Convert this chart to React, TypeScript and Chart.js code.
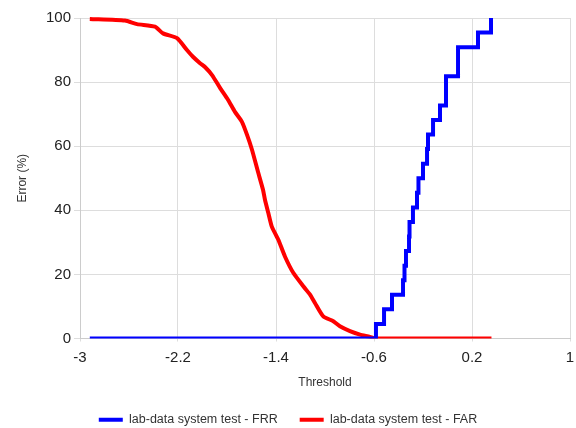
import React, { useEffect, useRef } from 'react';
import { Chart, registerables } from 'chart.js';

Chart.register(...registerables);

// Threshold values at which the FRR step changes, and the new FRR value (%)
const frrThresholds = [
  -2.92, -0.584, -0.518, -0.453, -0.363, -0.351, -0.339, -0.314, -0.31, -0.282,
  -0.249, -0.237, -0.2, -0.167, -0.159, -0.118, -0.061, -0.012, -0.012, 0.086,
  0.086, 0.249, 0.355,
];
const frrValues = [
  0, 4.55, 9.09, 13.64, 18.18, 22.73, 27.27, 31.82, 36.36, 40.91,
  45.45, 50, 54.55, 59.09, 63.64, 68.18, 72.73, 77.27, 81.82, 86.36,
  90.91, 95.45, 100,
];

// FAR curve
const farThresholds = [
  -2.92, -2.633, -2.535, -2.388, -2.322, -2.208, -2.127, -2.078, -2.02, -1.98,
  -1.922, -1.857, -1.792, -1.735, -1.678, -1.637, -1.596, -1.547, -1.506, -1.49,
  -1.463, -1.435, -1.381, -1.327, -1.259, -1.177, -1.122, -1.082, -1.014, -0.932,
  -0.878, -0.796, -0.714, -0.633, -0.592, 0.359,
];
const farValues = [
  99.7, 99.2, 98.1, 97.3, 95.2, 93.7, 90.0, 87.9, 85.9, 84.7,
  82.2, 78.2, 74.5, 70.7, 67.6, 63.6, 58.9, 52.0, 46.4, 43.3,
  39.2, 35.0, 30.8, 25.6, 20.5, 16.3, 13.7, 11.1, 6.9, 5.4,
  3.8, 2.3, 1.2, 0.5, 0, 0,
];

const xTickValues = [-3, -2.2, -1.4, -0.6, 0.2, 1];
const xTickLabels = ['-3', '-2.2', '-1.4', '-0.6', '0.2', '1'];
const yTickValues = [0, 20, 40, 60, 80, 100];
const seriesLabels = ['lab-data system test - FRR', 'lab-data system test - FAR'];
const xTitle = 'Threshold';
const yTitle = 'Error (%)';

const FONT = "'Liberation Sans', Arial, sans-serif";

export default function App() {
  const ref = useRef<HTMLCanvasElement>(null);

  useEffect(() => {
    if (!ref.current) return;
    const clip = { left: 10, top: 10, right: 10, bottom: 0 };
    const chart = new Chart(ref.current, {
      type: 'line',
      data: {
        datasets: [
          {
            label: seriesLabels[0],
            data: frrThresholds.map((x, i) => ({ x, y: frrValues[i] })),
            borderColor: '#0000ff',
            backgroundColor: '#0000ff',
            borderWidth: 4,
            pointRadius: 0,
            stepped: 'before',
            fill: false,
            borderJoinStyle: 'miter',
            clip,
          } as any,
          {
            label: seriesLabels[1],
            data: farThresholds.map((x, i) => ({ x, y: farValues[i] })),
            borderColor: '#ff0000',
            backgroundColor: '#ff0000',
            borderWidth: 4,
            pointRadius: 0,
            tension: 0.2,
            fill: false,
            clip,
          } as any,
        ],
      },
      options: {
        responsive: false,
        animation: false,
        layout: { padding: { left: 0, right: 0, top: 18, bottom: 0 } },
        plugins: {
          legend: {
            position: 'bottom',
            labels: {
              usePointStyle: true,
              pointStyle: 'line',
              pointStyleWidth: 24,
              padding: 22,
              color: '#333',
              font: { family: FONT, size: 12.5 },
            },
          },
          tooltip: { enabled: false },
        },
        scales: {
          x: {
            type: 'linear',
            min: -3,
            max: 1,
            afterBuildTicks: (s: any) => {
              s.ticks = xTickValues.map((v) => ({ value: v }));
            },
            afterFit: (s: any) => {
              s.height = 53;
              s.paddingRight = 6;
              s.paddingLeft = 0;
            },
            ticks: {
              callback: (_v: any, i: number) => xTickLabels[i],
              color: '#222',
              font: { family: FONT, size: 15 },
              padding: 7,
              maxRotation: 0,
            },
            grid: { color: '#dddddd', tickLength: 3 },
            border: { color: '#cccccc' },
            title: {
              display: true,
              text: xTitle,
              color: '#333',
              font: { family: FONT, size: 12 },
              padding: { top: 4, bottom: 2 },
            },
          },
          y: {
            type: 'linear',
            min: 0,
            max: 100,
            afterBuildTicks: (s: any) => {
              s.ticks = yTickValues.map((v) => ({ value: v }));
            },
            afterFit: (s: any) => {
              s.width = 80;
            },
            ticks: {
              color: '#222',
              font: { family: FONT, size: 15 },
              padding: 3,
            },
            grid: { color: '#dddddd', tickLength: 6 },
            border: { color: '#cccccc' },
            title: {
              display: true,
              text: yTitle,
              color: '#333',
              font: { family: FONT, size: 12 },
              padding: { top: 15, bottom: 4 },
            },
          },
        },
      } as any,
    });
    return () => chart.destroy();
  }, []);

  return (
    <div
      style={{
        position: 'fixed',
        left: 0,
        top: 0,
        width: 576,
        height: 428,
        overflow: 'hidden',
        background: '#fff',
      }}
    >
      <canvas ref={ref} width={576} height={436} style={{ display: 'block' }} />
    </div>
  );
}
